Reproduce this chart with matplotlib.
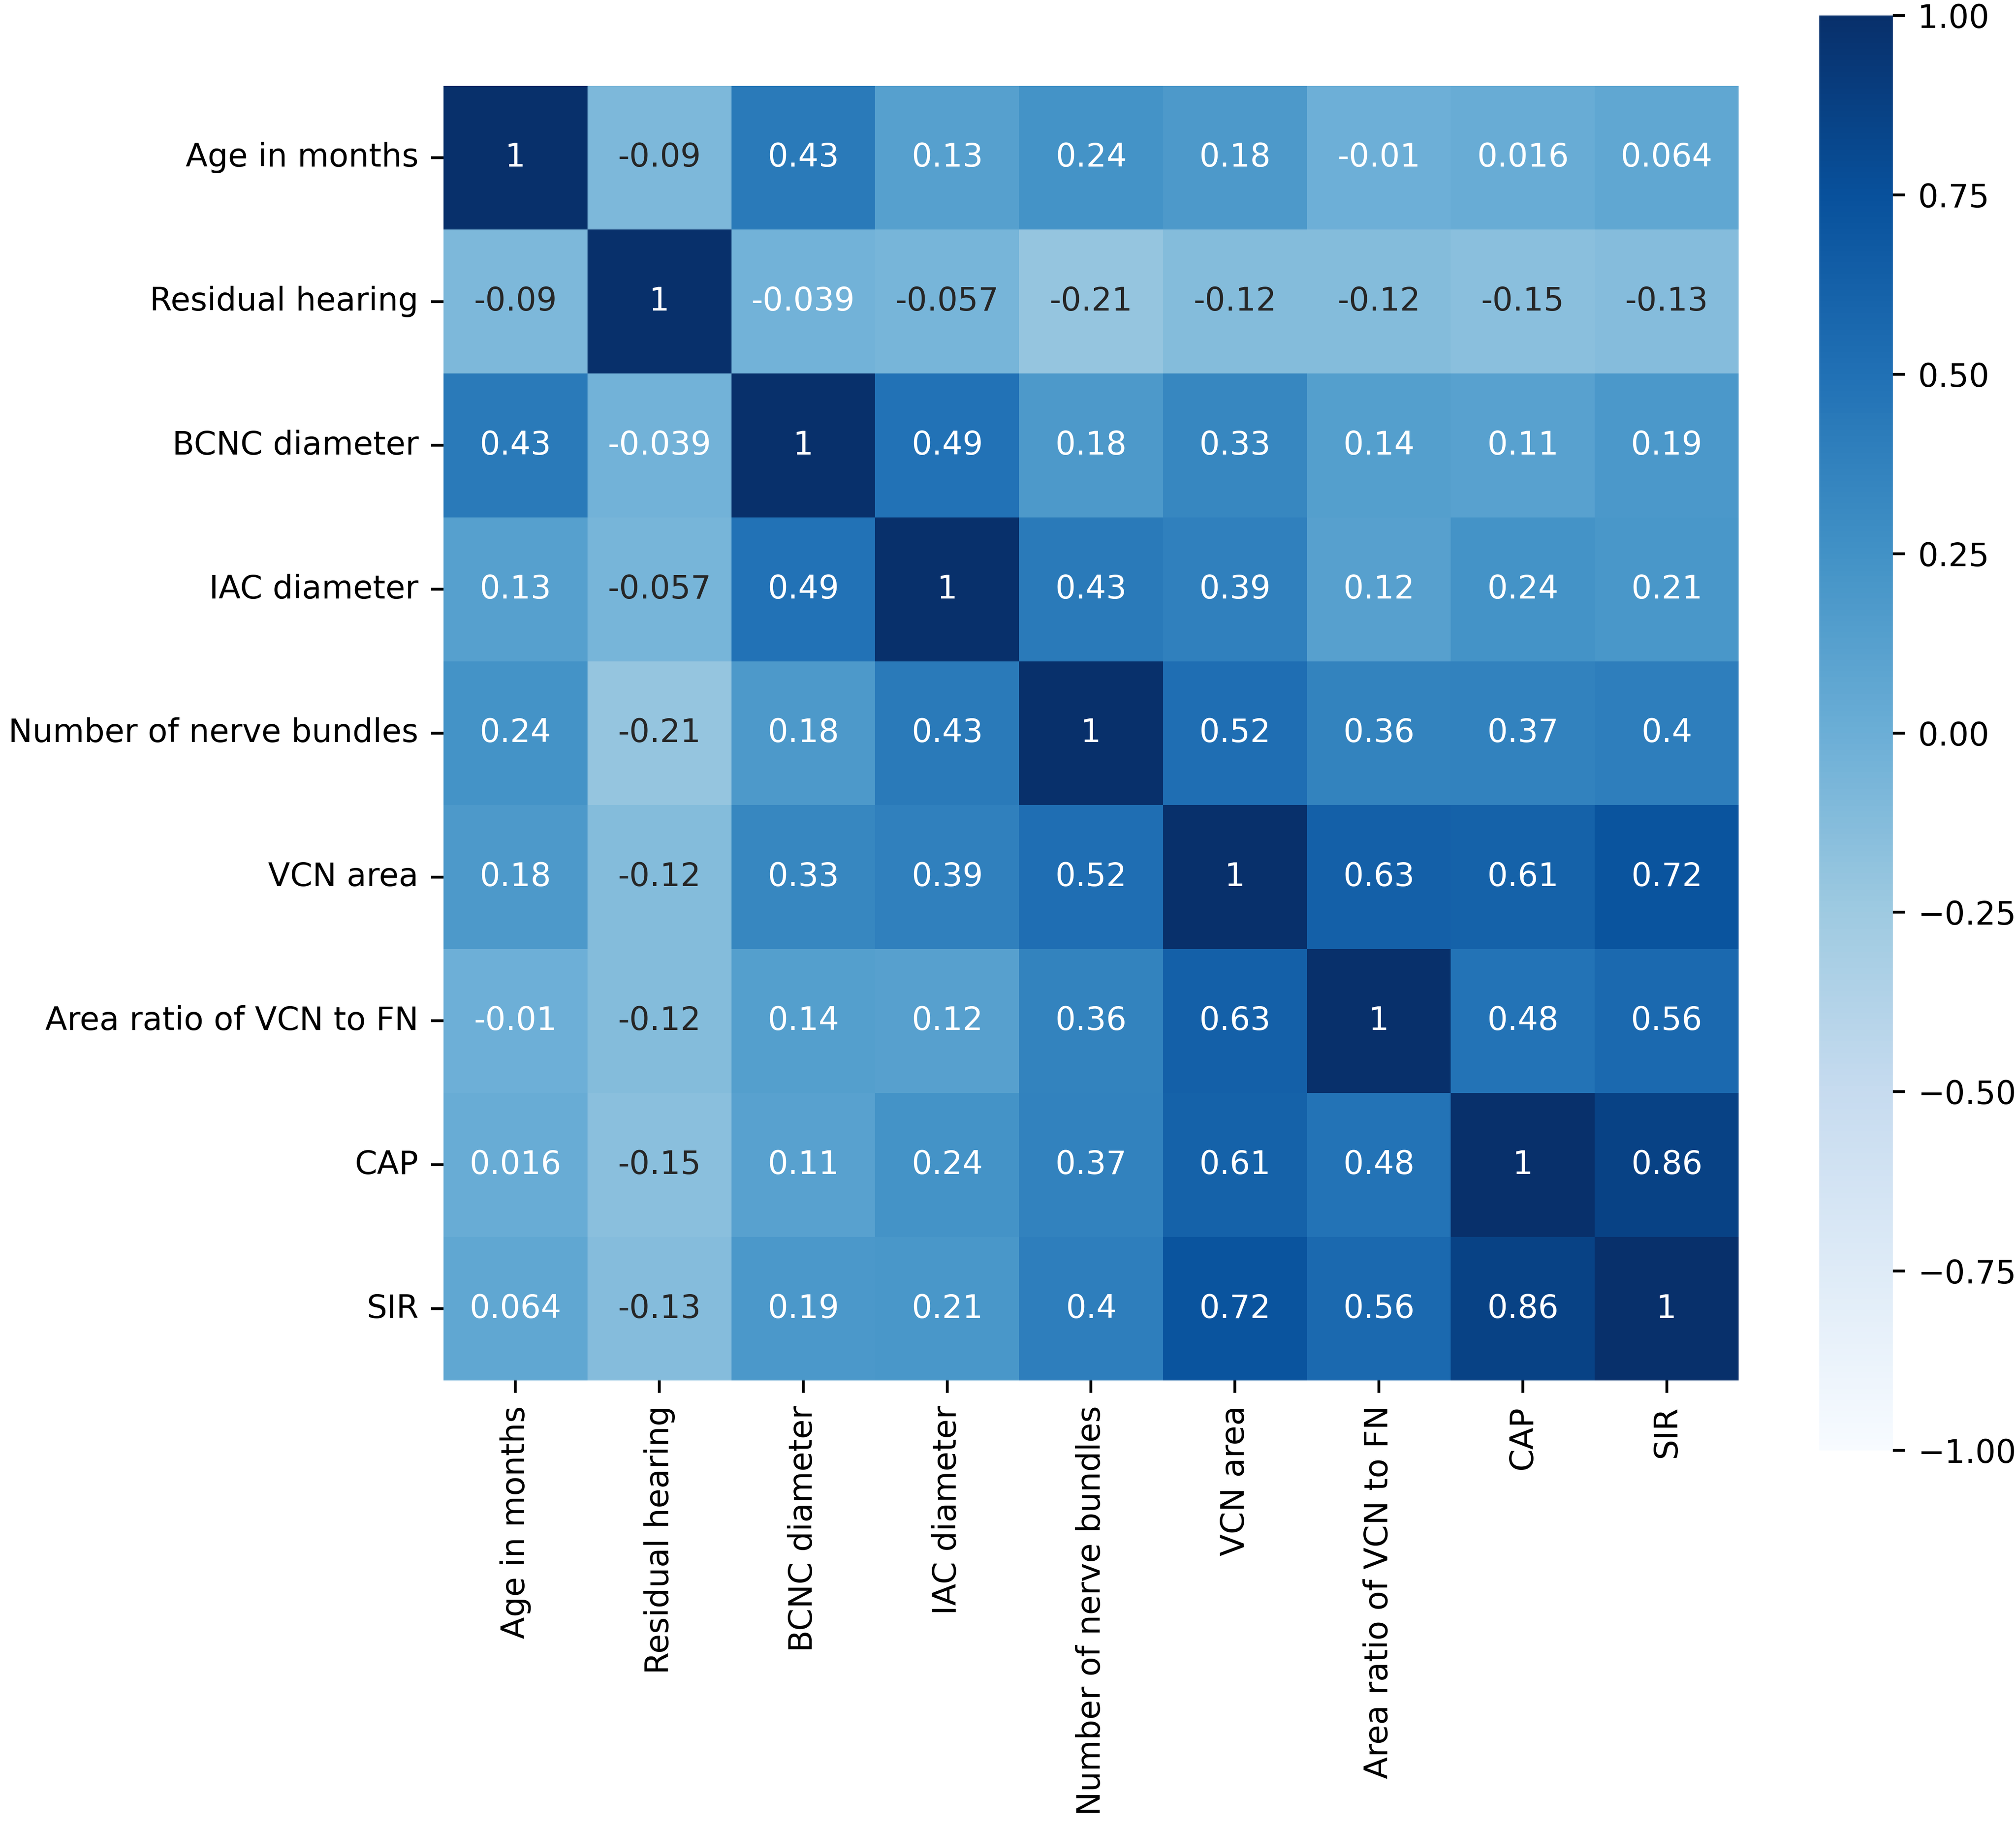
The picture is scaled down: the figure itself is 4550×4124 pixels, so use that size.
import numpy as np
import pandas as pd
import seaborn as sns
import matplotlib
matplotlib.use("Agg")
import matplotlib.pyplot as plt

variables = ["Age in months", "Residual hearing", "BCNC diameter", "IAC diameter",
             "Number of nerve bundles", "VCN area", "Area ratio of VCN to FN", "CAP", "SIR"]

age_row = [1, -0.09, 0.43, 0.13, 0.24, 0.18, -0.01, 0.016, 0.064]
hearing_row = [-0.09, 1, -0.039, -0.057, -0.21, -0.12, -0.12, -0.15, -0.13]
bcnc_row = [0.43, -0.039, 1, 0.49, 0.18, 0.33, 0.14, 0.11, 0.19]
iac_row = [0.13, -0.057, 0.49, 1, 0.43, 0.39, 0.12, 0.24, 0.21]
bundles_row = [0.24, -0.21, 0.18, 0.43, 1, 0.52, 0.36, 0.37, 0.4]
vcn_row = [0.18, -0.12, 0.33, 0.39, 0.52, 1, 0.63, 0.61, 0.72]
ratio_row = [-0.01, -0.12, 0.14, 0.12, 0.36, 0.63, 1, 0.48, 0.56]
cap_row = [0.016, -0.15, 0.11, 0.24, 0.37, 0.61, 0.48, 1, 0.86]
sir_row = [0.064, -0.13, 0.19, 0.21, 0.4, 0.72, 0.56, 0.86, 1]

corr = pd.DataFrame([age_row, hearing_row, bcnc_row, iac_row, bundles_row,
                     vcn_row, ratio_row, cap_row, sir_row],
                    index=variables, columns=variables)

FS = 9.0
plt.rcParams['font.family'] = ['DejaVu Sans']

fig = plt.figure(figsize=(4550 / 580, 4124 / 580), dpi=580)
ax = fig.add_axes([0.220, 0.2440, 0.6424, 0.7094])
cax = fig.add_axes([0.9024, 0.2061, 0.0365, 0.7854])

sns.heatmap(corr, ax=ax, cbar_ax=cax, cmap="Blues", vmin=-1, vmax=1,
            annot=True, annot_kws={"fontsize": FS}, square=True)

ax.set_yticklabels(variables, rotation=0, fontsize=FS)
ax.set_xticklabels(variables, rotation=90, fontsize=FS)
ax.tick_params(axis="both", length=3.5, width=0.8)
cax.tick_params(labelsize=FS, length=3.5, width=0.8)
cax.set_yticks([-1, -0.75, -0.5, -0.25, 0, 0.25, 0.5, 0.75, 1])
cax.set_yticklabels(["\u22121.00", "\u22120.75", "\u22120.50", "\u22120.25", "0.00",
                     "0.25", "0.50", "0.75", "1.00"])

fig.savefig("out.png", dpi=580)
